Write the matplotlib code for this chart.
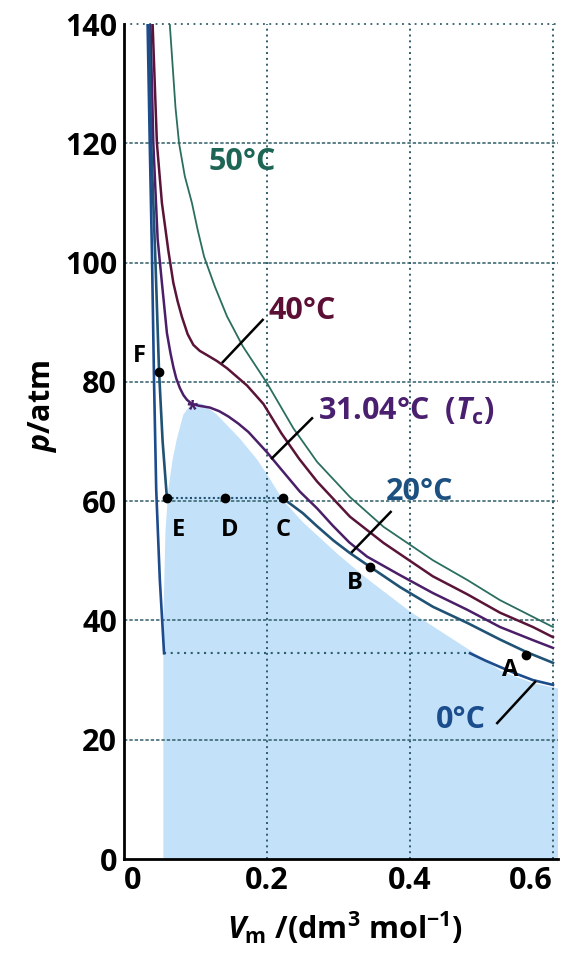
import matplotlib
matplotlib.use('Agg')
import matplotlib.pyplot as plt

plt.rcParams['font.family'] = ['Open Sans', 'DejaVu Sans']
plt.rcParams['font.weight'] = 'bold'
plt.rcParams['mathtext.fontset'] = 'custom'
plt.rcParams['mathtext.rm'] = 'Open Sans:bold'
plt.rcParams['mathtext.it'] = 'Open Sans:italic:bold'
plt.rcParams['mathtext.bf'] = 'Open Sans:bold'

# CO2 isotherms: Vm in dm3/mol, p in atm
v_50 = [0.064, 0.068, 0.072, 0.077, 0.085, 0.095, 0.103, 0.112, 0.127, 0.144, 0.166,
        0.2, 0.237, 0.27, 0.316, 0.363, 0.432, 0.48, 0.526, 0.572, 0.6]
p_50 = [140, 133, 126, 120, 114.5, 110, 105.5, 101, 96, 91, 86,
        79.8, 72.2, 66.6, 60.7, 55.7, 50.1, 46.8, 43.4, 40.6, 38.9]

v_40 = [0.040, 0.043, 0.046, 0.053, 0.062, 0.069, 0.075, 0.081, 0.089, 0.097, 0.106,
        0.116, 0.13, 0.144, 0.172, 0.195, 0.22, 0.245, 0.27, 0.316, 0.363, 0.432,
        0.48, 0.526, 0.572, 0.6]
p_40 = [140, 130, 120, 110, 102, 96.6, 93.5, 90.9, 88, 86.2, 85.2,
        84.5, 83.5, 82.3, 79.4, 76.3, 71.4, 67.1, 63.3, 57.4, 53, 47.4,
        44.4, 41.3, 38.9, 37.2]

v_31 = [0.037, 0.039, 0.041, 0.044, 0.047, 0.053, 0.060, 0.065, 0.069, 0.073, 0.078,
        0.083, 0.088, 0.095, 0.105, 0.12, 0.133, 0.146, 0.16, 0.174, 0.2, 0.218,
        0.246, 0.27, 0.292, 0.315, 0.34, 0.386, 0.432, 0.48, 0.526, 0.572, 0.6]
p_31 = [140, 130, 120, 112, 104, 96.6, 88.2, 84.8, 82.5, 80.6, 79.0,
        77.8, 77.0, 76.3, 76.0, 75.7, 75.1, 74.2, 73.0, 71.6, 68.2, 65.6,
        61.6, 58.8, 55.9, 53.1, 50.7, 47.6, 44.6, 41.8, 38.9, 36.7, 35.4]

v_20_liq = [0.035, 0.038, 0.044, 0.049, 0.054, 0.060]
p_20_liq = [140, 120, 100, 81.7, 70, 60.5]
v_20_gas = [0.222, 0.25, 0.27, 0.293, 0.316, 0.344, 0.386, 0.432, 0.48, 0.526, 0.563, 0.6]
p_20_gas = [60.5, 58.0, 55.8, 53.4, 51.3, 49.0, 45.6, 42.3, 39.6, 36.8, 34.7, 32.9]
p_20_sat = 60.5

v_0_liq = [0.033, 0.036, 0.039, 0.042, 0.045, 0.050, 0.056]
p_0_liq = [140, 120, 102, 80, 62, 47, 34.5]
v_0_gas = [0.484, 0.505, 0.526, 0.55, 0.572, 0.6]
p_0_gas = [34.5, 33.3, 32.2, 31.0, 30.0, 29.2]
p_0_sat = 34.5

# two-phase region (shaded)
v_dome = [0.055, 0.055, 0.058, 0.062, 0.068, 0.074, 0.083, 0.095, 0.11, 0.13, 0.162,
          0.186, 0.2, 0.214, 0.222, 0.25, 0.3, 0.34, 0.4, 0.48, 0.526, 0.572, 0.607, 0.607]
p_dome = [0, 40, 55, 62, 67, 70.5, 74.5, 76.5, 76.3, 74.5, 70.5,
          67, 64.5, 61.8, 60.2, 56.5, 51, 47, 41.5, 35.3, 31.6, 29.5, 28.6, 0]

pt_names = ['A', 'B', 'C', 'D', 'E', 'F']
pt_v = [0.562, 0.344, 0.222, 0.141, 0.060, 0.049]
pt_p = [34.2, 49.0, 60.5, 60.5, 60.5, 81.7]

c50 = '#2b6e5f'
c40 = '#5a1438'
c31 = '#4a1e68'
c20 = '#1f5274'
c0 = '#1c4c8c'
grid_c = '#2f5d68'

fig = plt.figure(figsize=(5.71, 9.58), dpi=100)
ax = fig.add_axes([0.2172, 0.1033, 0.760, 0.8716])
ax.set_xlim(0, 0.607)
ax.set_ylim(0, 140)

ax.fill(v_dome, p_dome, color='#c3e1f8', lw=0, zorder=1)

# grid
for y in [20, 40, 60, 80, 100, 120]:
    ax.axhline(y, color=grid_c, lw=1.1, ls=(0, (2.2, 1.3)), zorder=2)
ax.axhline(140, color=grid_c, lw=1.3, ls=(0, (1, 2.5)), zorder=2, clip_on=False)
for x in [0.2, 0.4, 0.6]:
    ax.axvline(x, color=grid_c, lw=1.4, ls=(0, (1, 2)), zorder=2)

# isotherms
ax.plot(v_50, p_50, color=c50, lw=1.3, zorder=4)
ax.plot(v_40, p_40, color=c40, lw=1.8, zorder=4)
ax.plot(v_31, p_31, color=c31, lw=1.8, zorder=4)
ax.plot(v_20_liq, p_20_liq, color=c20, lw=1.9, zorder=4)
ax.plot(v_20_gas, p_20_gas, color=c20, lw=1.9, zorder=4)
ax.plot([v_20_liq[-1], v_20_gas[0]], [p_20_sat, p_20_sat], color=c20, lw=1.5,
        ls=(0, (1, 1.2)), zorder=3)
ax.plot(v_0_liq, p_0_liq, color=c0, lw=1.9, zorder=4)
ax.plot(v_0_gas, p_0_gas, color=c0, lw=1.9, zorder=4)
ax.plot([v_0_liq[-1], v_0_gas[0]], [p_0_sat, p_0_sat], color=grid_c, lw=1.5,
        ls=(0, (1, 2.2)), zorder=3)

ax.plot(pt_v, pt_p, 'o', color='black', ms=6, zorder=5)
ax.text(0.095, 75.2, '*', color=c31, fontsize=15, ha='center', va='center', zorder=5)

lab_pos = {'A': (0.540, 31.7), 'B': (0.323, 46.3), 'C': (0.222, 55.2),
           'D': (0.148, 55.2), 'E': (0.076, 55.2), 'F': (0.022, 84.3)}
for name in pt_names:
    lx, ly = lab_pos[name]
    ax.text(lx, ly, name, fontsize=17, fontweight='bold', ha='center', va='center',
            color='black', zorder=6)

# temperature labels with leader lines
ax.text(0.165, 116.9, '50°C', color='#1d6656', fontsize=22, ha='center', va='center')
ax.text(0.249, 91.9, '40°C', color='#5c0f35', fontsize=22, ha='center', va='center')
ax.text(0.272, 75.1, r'31.04°C  ($T_{\mathrm{c}}$)', color='#4b1f6f', fontsize=22,
        ha='left', va='center')
ax.text(0.414, 61.5, '20°C', color='#1b5080', fontsize=22, ha='center', va='center')
ax.text(0.471, 23.3, '0°C', color='#1a4c8e', fontsize=22, ha='center', va='center')

ax.plot([0.138, 0.194], [83.3, 90.4], color='black', lw=1.8, zorder=5)
ax.plot([0.207, 0.263], [67.2, 73.9], color='black', lw=1.8, zorder=5)
ax.plot([0.319, 0.373], [51.5, 58.2], color='black', lw=1.8, zorder=5)
ax.plot([0.522, 0.575], [22.8, 29.7], color='black', lw=1.8, zorder=5)

# axes
for s in ['top', 'right']:
    ax.spines[s].set_visible(False)
for s in ['left', 'bottom']:
    ax.spines[s].set_linewidth(2)
    ax.spines[s].set_zorder(6)
ax.set_xticks([0, 0.2, 0.4, 0.6])
ax.set_xticklabels(['0', '0.2', '0.4', '0.6'])
ax.set_yticks([0, 20, 40, 60, 80, 100, 120, 140])
ax.tick_params(length=0, labelsize=22, pad=5)
for t in ax.get_xticklabels() + ax.get_yticklabels():
    t.set_fontweight('bold')
xlabels = ax.get_xticklabels()
xlabels[0].set_horizontalalignment('left')
xlabels[-1].set_horizontalalignment('right')

ax.text(-0.187, 0.5425, r'$p$/atm', transform=ax.transAxes, rotation=90,
        fontsize=22, ha='center', va='center')
ax.text(0.509, -0.0826, r'$V_{\mathrm{m}}$ /(dm$^{3}$ mol$^{-1}$)', transform=ax.transAxes,
        fontsize=22, ha='center', va='center')

fig.savefig('out.png', dpi=100)
